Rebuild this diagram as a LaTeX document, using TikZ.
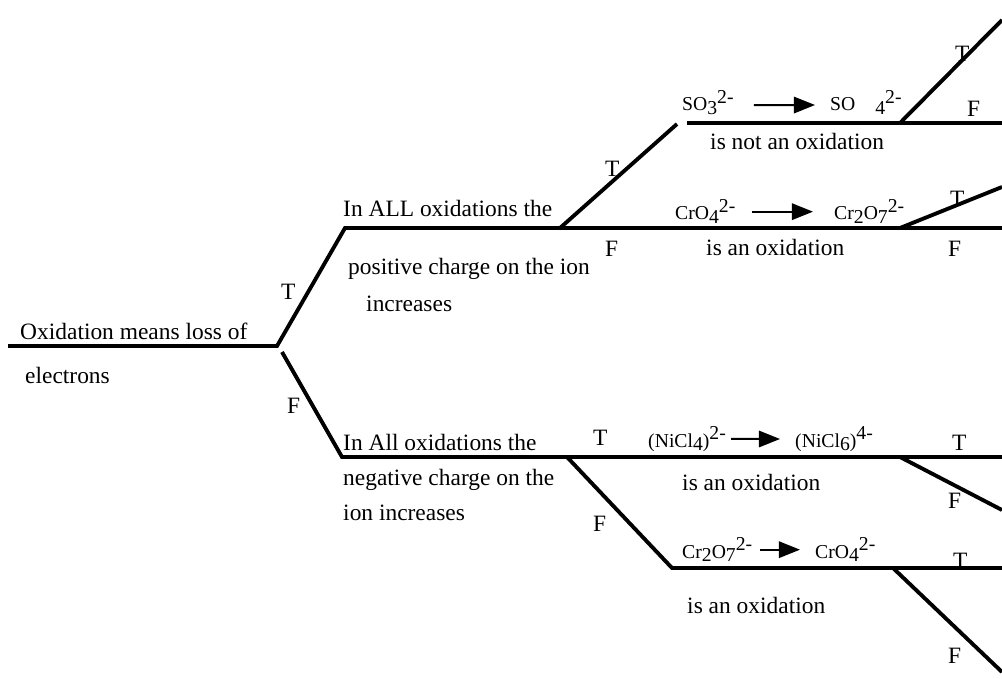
\documentclass[tikz,border=0pt]{standalone}
\usepackage{fontspec}
\setmainfont{Liberation Serif}
\usetikzlibrary{arrows.meta, positioning}
\newcommand\chsub[1]{\raisebox{-0.4ex}{#1}}
\newcommand\chsup[1]{\raisebox{0.8ex}{#1}}

\begin{document}
\begin{tikzpicture}[
    x=0.03cm, y=-0.03cm,
    every node/.style={inner sep=0pt, anchor=base west},
    stmt/.style={font=\fontsize{20}{24}\selectfont},
    tf/.style={font=\fontsize{20}{24}\selectfont},
    chem/.style={font=\fontsize{16.8}{20}\selectfont},
    branch/.style={line width=3.3pt},
    react/.style={-{Triangle[length=18pt, width=14pt]}, line width=1.7pt}
]
\useasboundingbox (0,0) rectangle (1002,679);

% Junctions of the tree
\coordinate (r0) at (8,346);
\coordinate (r1) at (277,346);
\coordinate (r1b) at (282,352);
\coordinate (p0) at (345,228);
\coordinate (p1) at (560,228);
\coordinate (p2) at (900,228);
\coordinate (pE) at (1002,228);
\coordinate (pT) at (1002,187);
\coordinate (s0) at (677,124);
\coordinate (s1) at (687,123);
\coordinate (s2) at (900,123);
\coordinate (sE) at (1002,123);
\coordinate (sT) at (1002,20);
\coordinate (n0) at (342,457);
\coordinate (n1) at (567,457);
\coordinate (n2) at (900,457);
\coordinate (nE) at (1002,457);
\coordinate (nF) at (1002,510);
\coordinate (c0) at (672,568);
\coordinate (c1) at (893,568);
\coordinate (cE) at (1002,568);
\coordinate (cF) at (1002,672);

% Branches
\draw[branch] (r0) -- (r1) -- (p0) -- (pE);
\draw[branch] (r1b) -- (n0) -- (nE);
\draw[branch] (p1) -- (s0);
\draw[branch] (s1) -- (sE);
\draw[branch] (s2) -- (sT);
\draw[branch] (p2) -- (pT);
\draw[branch] (n1) -- (c0) -- (cE);
\draw[branch] (n2) -- (nF);
\draw[branch] (c1) -- (cF);

% Statements
\node[stmt] (ox1) at (20,339) {Oxidation means loss of};
\node[stmt] (ox2) at (25,383) {electrons};
\node[stmt] (pos1) at (343,217) {In ALL oxidations the};
\node[stmt] (pos2) at (348,275) {positive charge on the ion};
\node[stmt] (pos3) at (366,312) {increases};
\node[stmt] (neg1) at (343,450) {In All oxidations the};
\node[stmt] (neg2) at (343,485) {negative charge on the};
\node[stmt] (neg3) at (343,520) {ion increases};

% Reactions
\node[chem] (so3) at (682,111) {SO\chsub{3}\chsup{2-}};
\node[chem] (so4) at (830,111) {SO\hspace{0.6cm}\chsub{4}\chsup{2-}};
\node[stmt] (so3txt) at (710,150) {is not an oxidation};
\draw[react] ([xshift=0.6cm,yshift=-2pt]so3.east) -- ([xshift=-0.45cm,yshift=-2pt]so4.west);

\node[chem] (cro4) at (675,220) {CrO\chsub{4}\chsup{2-}};
\node[chem] (cr2o7) at (834,220) {Cr\chsub{2}O\chsub{7}\chsup{2-}};
\node[stmt] (cro4txt) at (706,256) {is an oxidation};
\draw[react] ([xshift=0.48cm]cro4.east) -- ([xshift=-0.63cm]cr2o7.west);

\node[chem] (nicl4) at (648,447) {(NiCl\chsub{4})\chsup{2-}};
\node[chem] (nicl6) at (795,447) {(NiCl\chsub{6})\chsup{4-}};
\node[stmt] (nicltxt) at (682,490) {is an oxidation};
\draw[react] ([xshift=0.15cm]nicl4.east) -- ([xshift=-0.45cm]nicl6.west);

\node[chem] (dich) at (682,558) {Cr\chsub{2}O\chsub{7}\chsup{2-}};
\node[chem] (chro) at (815,558) {CrO\chsub{4}\chsup{2-}};
\node[stmt] (dichtxt) at (687,613) {is an oxidation};
\draw[react] ([xshift=0.24cm]dich.east) -- ([xshift=-0.45cm]chro.west);

% True / false labels
\node[tf] (tRoot) at (281,300) {T};
\node[tf] (fRoot) at (287,413) {F};
\node[tf] (tPos) at (605,177) {T};
\node[tf] (fPos) at (605,257) {F};
\node[tf] (tSo) at (955,62) {T};
\node[tf] (fSo) at (967,117) {F};
\node[tf] (tCr) at (950,207) {T};
\node[tf] (fCr) at (948,257) {F};
\node[tf] (tNeg) at (593,445) {T};
\node[tf] (fNeg) at (593,531) {F};
\node[tf] (tNi) at (952,450) {T};
\node[tf] (fNi) at (948,508) {F};
\node[tf] (tDi) at (953,568) {T};
\node[tf] (fDi) at (948,663) {F};

\end{tikzpicture}
\end{document}
